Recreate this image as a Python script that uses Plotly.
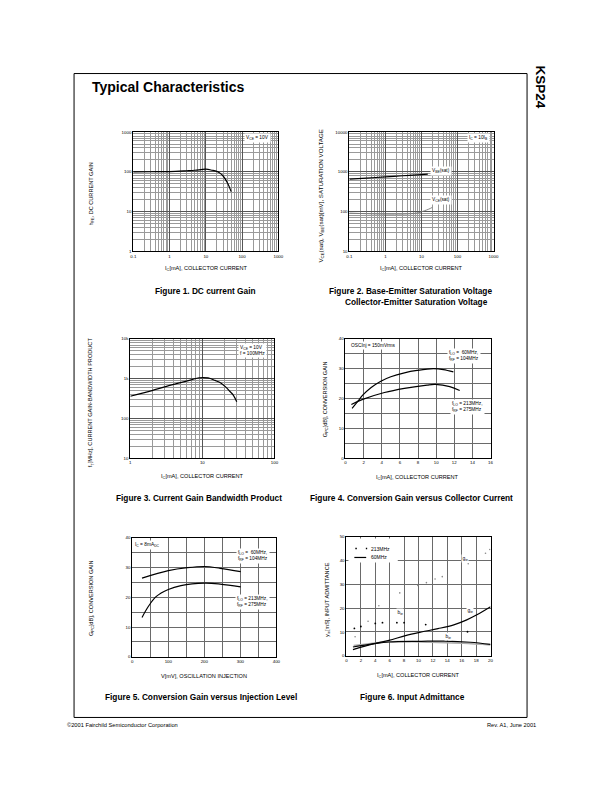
import plotly.graph_objects as go

W, H = 612, 792
FONT = "Liberation Sans"

# ---------------- data ----------------
# Figure 1: DC current gain
f1_ic = [0.1, 0.3, 1, 3, 5, 10, 15, 20, 25, 30, 40, 50]
f1_hfe = [100, 101, 102, 107, 110, 117, 110, 103, 92, 79, 52, 32]

# Figure 2: saturation voltages
f2_vbe_ic = [0.1, 0.3, 1, 3, 10, 15]
f2_vbe = [660, 700, 750, 800, 857, 880]
f2_vce_ic = [0.1, 0.3, 1, 3, 5, 8, 12, 16, 20]
f2_vce = [92, 89, 87, 87, 89, 93, 105, 116, 128]

# Figure 3: gain bandwidth product
f3_ic = [1, 2, 3, 5, 7, 9, 12, 15, 18, 21, 24, 27, 30]
f3_ft = [360, 500, 620, 790, 930, 1050, 1040, 900, 780, 620, 480, 380, 260]

# Figure 4: conversion gain vs collector current
f4_a_ic = [0.73, 1.4, 1.9, 2.8, 3.9, 5.0, 6.5, 7.9, 9.7, 10.8, 11.9]
f4_a_g = [16.7, 19.2, 21.1, 23.6, 25.8, 27.3, 28.6, 29.4, 30.0, 29.7, 28.9]
f4_b_ic = [0.65, 1.9, 4.3, 6.5, 9.0, 9.9, 11.5, 12.6]
f4_b_g = [18.0, 19.7, 22.0, 23.4, 24.5, 24.7, 24.0, 22.7]

# Figure 5: conversion gain vs injection level
f5_a_v = [27, 100, 153, 201, 244, 301]
f5_a_g = [26.4, 28.9, 29.9, 30.3, 29.7, 28.6]
f5_b_v = [27, 44, 66, 100, 135, 201, 244, 301]
f5_b_g = [13.2, 16.8, 20.2, 22.6, 23.9, 24.7, 24.4, 23.5]

# Figure 6: input admittance
f6_g60_ic = [0.9, 3.7, 5.9, 8.2, 10.4, 12.7, 14.9, 16.7, 18.1, 20]
f6_g60 = [2.6, 5.0, 6.5, 8.5, 10.0, 11.4, 13.0, 15.1, 17.2, 20.6]
f6_b60_ic = [0.9, 3.7, 5.9, 10.4, 13.6, 17.2, 20]
f6_b60 = [3.7, 5.0, 5.8, 6.1, 6.2, 5.7, 4.8]
f6_gray_ic = [1.0, 4.9, 7.1, 11.7, 16.2, 20]
f6_gray = [4.3, 5.7, 6.0, 5.7, 5.3, 4.6]
f6_g213_ic = [1.2, 3.0, 4.5, 7.4, 9.9, 11.1, 12.3, 13.3, 16.9, 19.3, 19.9]
f6_g213 = [8.0, 14.5, 21.0, 26.4, 29.5, 30.7, 32.2, 33.2, 38.6, 43.0, 44.6]
f6_b213_ic = [1.1, 2.0, 4.0, 5.0, 7.0, 8.0, 11.0, 16.8]
f6_b213 = [11.5, 12.3, 13.6, 13.9, 13.9, 13.9, 13.1, 10.1]
f6_legend = ["213MHz", "60MHz"]

# tick labels
f1_xt = [0.1, 1, 10, 100, 1000]; f1_xl = ["0.1", "1", "10", "100", "1000"]
f1_yt = [1, 10, 100, 1000]; f1_yl = ["1", "10", "100", "1000"]
f2_yt = [10, 100, 1000, 10000]; f2_yl = ["10", "100", "1000", "10000"]
f3_xt = [1, 10, 100]; f3_xl = ["1", "10", "100"]
f3_yt = [10, 100, 1000, 10000]; f3_yl = ["10", "100", "1k", "10k"]

# ---------------- helpers ----------------
def xd(a, b):
    return [a / W, b / W]

def yd(top, bottom):
    return [1 - bottom / H, 1 - top / H]

def px(x):
    return x / W

def py(y):
    return 1 - y / H

TICKF = dict(family=FONT, size=4.4, color="black")

def log_axis(domain, rng, vals, texts, anchor):
    return dict(type="log", domain=domain, range=rng, tickmode="array", tickvals=vals, ticktext=texts,
                showgrid=True, gridcolor="#555", gridwidth=1.1,
                minor=dict(tickmode="linear", dtick="D1", showgrid=True, gridcolor="#9a9a9a",
                           gridwidth=0.5, ticks=""),
                showline=True, linecolor="black", linewidth=1, mirror=True, ticks="",
                tickfont=TICKF, zeroline=False, anchor=anchor, fixedrange=True)

def lin_axis(domain, rng, dtick, gdtick, anchor):
    d = dict(type="linear", domain=domain, range=rng, tickmode="linear", tick0=0, dtick=dtick,
             showgrid=True, gridcolor="#6a6a6a", gridwidth=0.7,
             showline=True, linecolor="black", linewidth=1, mirror=True, ticks="",
             tickfont=TICKF, zeroline=False, anchor=anchor, fixedrange=True)
    if gdtick:
        d["minor"] = dict(tickmode="linear", tick0=0, dtick=gdtick, showgrid=True,
                          gridcolor="#6a6a6a", gridwidth=0.7, ticks="")
    return d

fig = go.Figure()
LINE = dict(color="black", width=1.2)

fig.add_trace(go.Scatter(x=f1_ic, y=f1_hfe, mode="lines", line=dict(LINE, shape="spline"),
                         xaxis="x", yaxis="y", showlegend=False))
fig.add_trace(go.Scatter(x=f2_vbe_ic, y=f2_vbe, mode="lines", line=dict(LINE, shape="spline"),
                         xaxis="x2", yaxis="y2", showlegend=False))
fig.add_trace(go.Scatter(x=f2_vce_ic, y=f2_vce, mode="lines", line=dict(color="#777", width=0.9, shape="spline"),
                         xaxis="x2", yaxis="y2", showlegend=False))
fig.add_trace(go.Scatter(x=f3_ic, y=f3_ft, mode="lines", line=dict(LINE, shape="spline"),
                         xaxis="x3", yaxis="y3", showlegend=False))
fig.add_trace(go.Scatter(x=f4_a_ic, y=f4_a_g, mode="lines", line=dict(LINE, shape="spline"),
                         xaxis="x4", yaxis="y4", showlegend=False))
fig.add_trace(go.Scatter(x=f4_b_ic, y=f4_b_g, mode="lines", line=dict(LINE, shape="spline"),
                         xaxis="x4", yaxis="y4", showlegend=False))
fig.add_trace(go.Scatter(x=f5_a_v, y=f5_a_g, mode="lines", line=dict(LINE, shape="spline"),
                         xaxis="x5", yaxis="y5", showlegend=False))
fig.add_trace(go.Scatter(x=f5_b_v, y=f5_b_g, mode="lines", line=dict(LINE, shape="spline"),
                         xaxis="x5", yaxis="y5", showlegend=False))
# figure 6
fig.add_trace(go.Scatter(x=f6_gray_ic, y=f6_gray, mode="lines", line=dict(color="#aaa", width=1.6, shape="spline"),
                         xaxis="x6", yaxis="y6", showlegend=False))
fig.add_trace(go.Scatter(x=f6_b213_ic, y=f6_b213, mode="markers", marker=dict(color="black", size=1.8),
                         xaxis="x6", yaxis="y6", name=f6_legend[0], showlegend=False))
fig.add_trace(go.Scatter(x=f6_g213_ic, y=f6_g213, mode="markers", marker=dict(color="#888", size=1.6),
                         xaxis="x6", yaxis="y6", showlegend=False))
fig.add_trace(go.Scatter(x=f6_g60_ic, y=f6_g60, mode="lines", line=dict(LINE, shape="spline"),
                         xaxis="x6", yaxis="y6", name=f6_legend[1], showlegend=False))
fig.add_trace(go.Scatter(x=f6_b60_ic, y=f6_b60, mode="lines", line=dict(LINE, shape="spline"),
                         xaxis="x6", yaxis="y6", showlegend=False))

fig.update_layout(
    width=W, height=H, margin=dict(l=0, r=0, t=0, b=0),
    paper_bgcolor="white", plot_bgcolor="white",
    font=dict(family=FONT, color="black"),
    showlegend=False,
    xaxis=log_axis(xd(132, 279), [-1, 3], f1_xt, f1_xl, "y"),
    yaxis=log_axis(yd(131, 251), [0, 3], f1_yt, f1_yl, "x"),
    xaxis2=log_axis(xd(351, 497), [-1, 3], f1_xt, f1_xl, "y2"),
    yaxis2=log_axis(yd(131, 251), [1, 4], f2_yt, f2_yl, "x2"),
    xaxis3=log_axis(xd(129, 275), [0, 2], f3_xt, f3_xl, "y3"),
    yaxis3=log_axis(yd(339, 459), [1, 4], f3_yt, f3_yl, "x3"),
    xaxis4=lin_axis(xd(347, 494), [0, 16], 2, None, "y4"),
    yaxis4=lin_axis(yd(339, 459), [0, 40], 10, 5, "x4"),
    xaxis5=lin_axis(xd(131, 277), [0, 400], 100, 50, "y5"),
    yaxis5=lin_axis(yd(539, 659), [0, 40], 10, 5, "x5"),
    xaxis6=lin_axis(xd(348, 494), [0, 20], 2, None, "y6"),
    yaxis6=lin_axis(yd(538, 658), [0, 50], 10, None, "x6"),
)

anns = []

def ann(x, y, text, size=4.8, bold=False, angle=0, xanchor="center", bg=None, align="left"):
    t = f"<b>{text}</b>" if bold else text
    a = dict(x=px(x), y=py(y), xref="paper", yref="paper", text=t, showarrow=False,
             font=dict(family=FONT, size=size, color="black"), textangle=angle,
             xanchor=xanchor, yanchor="middle", align=align)
    if bg:
        a["bgcolor"] = bg
        a["borderpad"] = 1
    anns.append(a)

def dann(x, y, text, xr, yr, size=4.8):
    anns.append(dict(x=x, y=y, xref=xr, yref=yr, text=text, showarrow=False,
                     font=dict(family=FONT, size=size, color="black"), bgcolor="white", borderpad=0.5))

# page texts
ann(88, 86, "Typical Characteristics", size=14, bold=True, xanchor="left")
ann(545, 86, "KSP24", size=13.5, bold=True, angle=90)
ann(63, 728, "©2001 Fairchild Semiconductor Corporation", size=5.7, xanchor="left")
ann(542, 728, "Rev. A1, June 2001", size=5.7, xanchor="right")

# captions
CS = 8.3
ann(205, 291, "Figure 1. DC current Gain", size=CS, bold=True)
ann(413, 291, "Figure 2. Base-Emitter Saturation Voltage", size=CS, bold=True)
ann(419, 302, "Collector-Emitter Saturation Voltage", size=CS, bold=True)
ann(199, 499, "Figure 3. Current Gain Bandwidth Product", size=CS, bold=True)
ann(414, 499, "Figure 4. Conversion Gain versus Collector Current", size=CS, bold=True)
ann(201, 699, "Figure 5. Conversion Gain versus Injection Level", size=CS, bold=True)
ann(415, 699, "Figure 6. Input Admittance", size=CS, bold=True)

# axis titles
XT = "I<sub>C</sub>[mA], COLLECTOR CURRENT"
AS = 5.6
ann(206, 268, XT, size=AS)
ann(424, 268, XT, size=AS)
ann(202, 478, XT, size=AS)
ann(420, 479, XT, size=AS)
ann(204, 678, "V[mV], OSCILLATION INJECTION", size=AS)
ann(421, 678, XT, size=AS)

ann(90, 193, "h<sub>FE</sub>, DC CURRENT GAIN", size=AS, angle=-90)
ann(322, 195, "V<sub>CE</sub>(sat), V<sub>BE</sub>(sat)[mV], SATURATION VOLTAGE", size=6.2, angle=-90)
ann(89, 403, "f<sub>T</sub>[MHz], CURRENT GAIN-BANDWIDTH PRODUCT", size=AS, angle=-90)
ann(327, 400, "G<sub>PC</sub>[dB], CONVERSION GAIN", size=AS, angle=-90)
ann(89, 600, "G<sub>PC</sub>[dB], CONVERSION GAIN", size=AS, angle=-90)
ann(328, 601, "y<sub>ie</sub>[mS], INPUT ADMITTANCE", size=AS, angle=-90)

# in-plot boxes
ann(258, 137, "V<sub>CE</sub> = 10V", size=4.8, bg="white")
ann(482, 137, "I<sub>C</sub> = 10I<sub>B</sub>", size=4.8, bg="white")
ann(444, 170, "V<sub>BE</sub>(sat)", size=4.8, bg="white")
ann(444, 199, "V<sub>CE</sub>(sat)", size=4.8, bg="white")
ann(253, 351, "V<sub>CE</sub> = 10V<br>f = 100MHz", size=4.8, bg="white")
ann(375, 346, "OSCInj = 150mVrms", size=4.8, bg="white")
ann(467, 356, "f<sub>LO</sub> =  60MHz,<br>f<sub>RF</sub> = 104MHz", size=4.8, bg="white")
ann(471, 408, "f<sub>LO</sub> = 213MHz,<br>f<sub>RF</sub> = 275MHz", size=4.8, bg="white")
ann(146, 546, "I<sub>C</sub> = 8mA<sub>DC</sub>", size=4.8, bg="white")
ann(253, 558, "f<sub>LO</sub> =  60MHz,<br>f<sub>RF</sub> = 104MHz", size=4.8, bg="white")
ann(253, 604, "f<sub>LO</sub> = 213MHz,<br>f<sub>RF</sub> = 275MHz", size=4.8, bg="white")

dann(16.5, 40.7, "g<sub>ie</sub>", "x6", "y6")
dann(7.5, 18.1, "b<sub>ie</sub>", "x6", "y6")
dann(17.2, 19.0, "g<sub>ie</sub>", "x6", "y6")
dann(14.1, 8.2, "b<sub>ie</sub>", "x6", "y6")

# figure 6 key texts
ann(371, 550, f6_legend[0], size=5, xanchor="left")
ann(371, 559, f6_legend[1], size=5, xanchor="left")

fig.update_layout(annotations=anns)

# page frame
fig.add_shape(type="rect", xref="paper", yref="paper", x0=px(72), x1=px(531), y0=py(720), y1=py(72),
              line=dict(color="black", width=1), layer="below")
# figure 6 key: white box and sample lines
fig.add_shape(type="rect", xref="paper", yref="paper", x0=px(350), x1=px(400), y0=py(564), y1=py(540),
              fillcolor="white", line=dict(width=0), layer="above")
fig.add_shape(type="line", xref="paper", yref="paper", x0=px(357), x1=px(369), y0=py(550), y1=py(550),
              line=dict(color="black", width=1.6, dash="1.5px,9px"), layer="above")
fig.add_shape(type="line", xref="paper", yref="paper", x0=px(356), x1=px(368), y0=py(559), y1=py(559),
              line=dict(color="black", width=1.2), layer="above")

fig.write_html("out.html")
